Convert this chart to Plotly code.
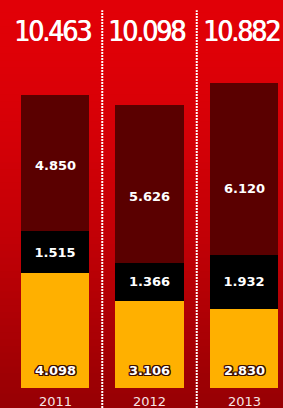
import plotly.graph_objects as go

years = ["2011", "2012", "2013"]
yellow_vals = [4098, 3106, 2830]
black_vals = [1515, 1366, 1932]
dark_vals = [4850, 5626, 6120]
totals = [a + b + c for a, b, c in zip(yellow_vals, black_vals, dark_vals)]

W, H = 283, 408
xpos = [0, 1, 2]


def fmt(v):
    return f"{v:,}".replace(",", ".")


fig = go.Figure()

label_font = dict(family="DejaVu Sans", size=13, color="white", weight="bold")
outline = ",".join(f"{dx}px {dy}px 0 #3a0e00" for dx in (-1.2, 0, 1.2) for dy in (-1.2, 0, 1.2) if dx or dy)

fig.add_trace(go.Bar(x=xpos, y=yellow_vals, marker=dict(color="#ffb000", line=dict(width=0)),
                     width=0.73, hoverinfo="skip"))
fig.add_trace(go.Bar(x=xpos, y=black_vals, marker=dict(color="#000000", line=dict(width=0)),
                     texttemplate="%{y:,}", textposition="inside", insidetextanchor="middle",
                     textfont=label_font, constraintext="none", width=0.73))
fig.add_trace(go.Bar(x=xpos, y=dark_vals, marker=dict(color="#5a0000", line=dict(width=0)),
                     width=0.73, hoverinfo="skip"))

# background gradient bands
shapes = []
n = 60
top = (226, 0, 8)
bot = (150, 0, 4)
for i in range(n):
    t = (i + 0.5) / n
    f = t ** 1.6
    c = tuple(int(top[k] + (bot[k] - top[k]) * f) for k in range(3))
    shapes.append(dict(type="rect", xref="paper", yref="paper", x0=0, x1=1,
                       y0=1 - (i + 1) / n, y1=1 - i / n + 0.002, layer="below",
                       fillcolor=f"rgb{c}", line=dict(width=0)))
for xd in (0.5, 1.5):
    shapes.append(dict(type="line", xref="x", yref="paper", x0=xd, x1=xd, y0=0, y1=0.975,
                       line=dict(color="white", width=2, dash="2px,1px")))

annotations = []
for x, t in zip(xpos, totals):
    annotations.append(dict(x=x, y=12750, xref="x", yref="y", xshift=-3,
                            text=f"<span style='letter-spacing:-2px'>{fmt(t)}</span>",
                            showarrow=False,
                            font=dict(family="DejaVu Sans Condensed", size=28, color="white",
                                      shadow="0.8px 0 0 white")))
for x, v in zip(xpos, yellow_vals):
    annotations.append(dict(x=x, y=610, xref="x", yref="y", text=fmt(v), showarrow=False,
                            font=dict(**label_font, shadow=outline)))
# dark segment labels sit a fixed distance above the segment's base
for x, a, b, v in zip(xpos, yellow_vals, black_vals, dark_vals):
    annotations.append(dict(x=x, y=a + b + 2350, xref="x", yref="y", text=fmt(v), showarrow=False,
                            font=label_font))
for x, yl in zip(xpos, years):
    annotations.append(dict(x=x, y=-480, xref="x", yref="y", text=yl, showarrow=False,
                            font=dict(family="DejaVu Sans", size=13, color="#f6e4e4")))

px_per_unit = 28 / 1000
fig.update_layout(
    width=W, height=H, barmode="stack", showlegend=False,
    margin=dict(l=0, r=0, t=0, b=0),
    paper_bgcolor="#c00000", plot_bgcolor="rgba(0,0,0,0)",
    separators=",.",
    shapes=shapes, annotations=annotations,
    xaxis=dict(range=[-55 / 94.5, (W - 55) / 94.5], visible=False, fixedrange=True),
    yaxis=dict(range=[-(H - 388) / px_per_unit, 388 / px_per_unit], visible=False, fixedrange=True),
)

fig.write_html("out.html", config={"displayModeBar": False},
               post_script="document.body.style.margin='0';document.body.style.overflow='hidden';")
